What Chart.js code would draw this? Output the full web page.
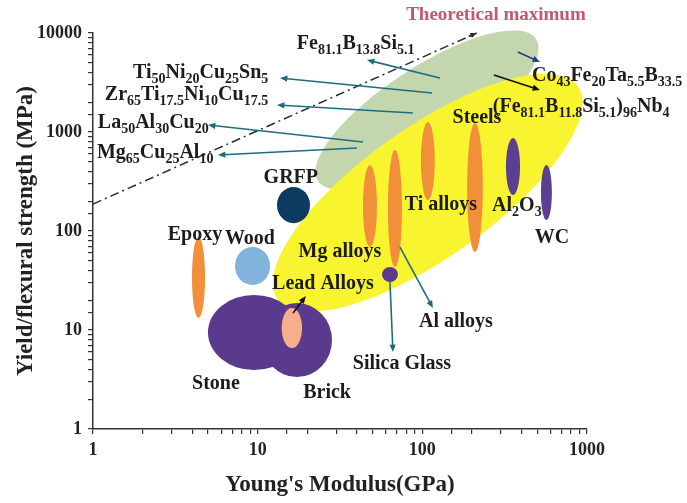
<!DOCTYPE html>
<html>
<head>
<meta charset="utf-8">
<script src="https://cdn.jsdelivr.net/npm/chart.js@4.4.1/dist/chart.umd.min.js"></script>
<style>
  html, body { margin: 0; padding: 0; background: #fff; }
  #wrap { width: 687px; height: 503px; }
</style>
</head>
<body>
<div id="wrap"><canvas id="ashby" width="687" height="503"></canvas></div>
<script>
// material bubbles: Young's modulus range (GPa) and yield/flexural strength range (MPa)
const materials   = ['Epoxy', 'Wood', 'GRFP', 'Stone', 'Brick', 'Lead Alloys', 'Mg alloys', 'Al alloys', 'Silica Glass', 'Ti alloys', 'Steels', 'Al2O3', 'WC'];
const modulusMin  = [3.99, 7.28, 13.1, 4.99, 10.6, 14.0, 43.6, 61.8, 56.9, 98.0, 187, 322, 525];
const modulusMax  = [4.79, 11.9, 20.8, 18.1, 28.3, 18.6, 53.0, 75.2, 71.1, 119, 233, 392, 612];
const strengthMin = [13.2, 28.5, 120, 3.94, 3.35, 6.58, 69.0, 43.3, 30.5, 206, 61.4, 231, 129];
const strengthMax = [87, 68.9, 278, 22.6, 18.7, 16.7, 464, 658, 43.3, 1262, 1233, 870, 464];

// the two large envelopes (metallic glasses, then the conventional materials)
const envModulusFrom  = [23.2, 13.2];
const envStrengthFrom = [320, 20.5];
const envModulusTo    = [490, 880];
const envStrengthTo   = [8700, 2900];
const envHalfDecades  = [0.434, 0.66];

// material labels (text, modulus, strength at baseline)
const labelText = ['GRFP', 'Epoxy', 'Wood', 'Mg alloys', 'Lead Alloys', 'Stone', 'Brick', 'Silica Glass', 'Al alloys', 'Ti alloys', 'Al_2O_3', 'WC', 'Steels'];
const labelX    = [15.9, 4.16, 8.98, 31.6, 24.9, 5.58, 26.4, 75.2, 160, 129.7, 375, 612, 214.6];
const labelY    = [305, 81.2, 73.9, 54.6, 25.9, 2.54, 2.06, 4.04, 10.7, 163, 159, 75.7, 1233];

// metallic glass compositions, left edge of text
const glasses  = ['Fe_81.1B_13.8Si_5.1', 'Ti_50Ni_20Cu_25Sn_5', 'Zr_65Ti_17.5Ni_10Cu_17.5', 'La_50Al_30Cu_20', 'Mg_65Cu_25Al_10', 'Co_43Fe_20Ta_5.5B_33.5', '(Fe_81.1B_11.8Si_5.1)_96Nb_4'];
const glassX   = [17.3, 1.75, 1.18, 1.07, 1.057, 463, 268];
const glassY   = [6890, 3512, 2104, 1097, 546, 3273, 1592];

// arrows: tail -> head
const arrowFromX = [127.9, 114.4, 87.7, 43.6, 40.1, 380, 272, 16.4, 63.6, 73.1];
const arrowFromY = [3512, 2477, 1556, 793, 689, 6430, 3765, 14.8, 30.5, 68.9];
const arrowToX   = [46.1, 13.66, 13.1, 4.99, 5.74, 518, 518, 19.6, 66.3, 115.9];
const arrowToY   = [5337, 3512, 1874, 1177, 586, 5096, 2655, 22.0, 5.99, 16.7];

// theoretical maximum line
const theoryX = [1, 214];
const theoryY = [187, 10000];

const serif = "'Liberation Serif', 'Times New Roman', serif";
const bubbleColors = {
  'Epoxy': '#f28f3b', 'Wood': '#80b4dd', 'GRFP': '#0c3b61', 'Stone': '#5a3a8c', 'Brick': '#5a3a8c',
  'Lead Alloys': '#f6af8c', 'Mg alloys': '#f28f3b', 'Al alloys': '#f28f3b', 'Silica Glass': '#5a3a8c',
  'Ti alloys': '#f28f3b', 'Steels': '#f28f3b', 'Al2O3': '#5d3f92', 'WC': '#5d3f92'
};
const envColors = ['#c3d6ae', '#f8f430'];
const arrowColors = ['#1f6c80', '#1f6c80', '#1f6c80', '#1f6c80', '#1f6c80', '#1d3f8c', '#111', '#111', '#1f6c80', '#1f6c80'];

function drawRich(ctx, text, px, py, align, size) {
  const parts = text.split(/_([\d.]+)/);
  const mainFont = 'bold ' + size + 'px ' + serif;
  const subFont = 'bold ' + Math.round(size * 0.7) + 'px ' + serif;
  let w = 0;
  parts.forEach(function (p, i) { ctx.font = i % 2 ? subFont : mainFont; w += ctx.measureText(p).width; });
  let cx = align === 'center' ? px - w / 2 : px;
  ctx.textAlign = 'left';
  ctx.textBaseline = 'alphabetic';
  parts.forEach(function (p, i) {
    ctx.font = i % 2 ? subFont : mainFont;
    ctx.fillText(p, cx, i % 2 ? py + size * 0.25 : py);
    cx += ctx.measureText(p).width;
  });
}

function drawArrow(ctx, x0, y0, x1, y1, color, lw, head) {
  const a = Math.atan2(y1 - y0, x1 - x0);
  ctx.strokeStyle = color;
  ctx.fillStyle = color;
  ctx.lineWidth = lw;
  ctx.beginPath();
  ctx.moveTo(x0, y0);
  ctx.lineTo(x1 - Math.cos(a) * head * 0.6, y1 - Math.sin(a) * head * 0.6);
  ctx.stroke();
  ctx.beginPath();
  ctx.moveTo(x1, y1);
  ctx.lineTo(x1 - head * Math.cos(a - 0.4), y1 - head * Math.sin(a - 0.4));
  ctx.lineTo(x1 - head * Math.cos(a + 0.4), y1 - head * Math.sin(a + 0.4));
  ctx.closePath();
  ctx.fill();
}

const ashbyPlugin = {
  id: 'ashby',
  afterDraw(chart) {
    const ctx = chart.ctx;
    const xs = chart.scales.x, ys = chart.scales.y;
    const decade = Math.abs(ys.getPixelForValue(1) - ys.getPixelForValue(10));
    ctx.save();

    // envelopes
    envColors.forEach(function (c, i) {
      const x0 = xs.getPixelForValue(envModulusFrom[i]), y0 = ys.getPixelForValue(envStrengthFrom[i]);
      const x1 = xs.getPixelForValue(envModulusTo[i]), y1 = ys.getPixelForValue(envStrengthTo[i]);
      const len = Math.hypot(x1 - x0, y1 - y0) / 2;
      ctx.fillStyle = c;
      ctx.beginPath();
      ctx.ellipse((x0 + x1) / 2, (y0 + y1) / 2, len, envHalfDecades[i] * decade, Math.atan2(y1 - y0, x1 - x0), 0, Math.PI * 2);
      ctx.fill();
    });

    // material bubbles
    materials.forEach(function (m, i) {
      const l = xs.getPixelForValue(modulusMin[i]), r = xs.getPixelForValue(modulusMax[i]);
      const t = ys.getPixelForValue(strengthMax[i]), b = ys.getPixelForValue(strengthMin[i]);
      ctx.fillStyle = bubbleColors[m];
      ctx.beginPath();
      ctx.ellipse((l + r) / 2, (t + b) / 2, (r - l) / 2, (b - t) / 2, 0, 0, Math.PI * 2);
      ctx.fill();
    });

    // theoretical maximum
    const tx0 = xs.getPixelForValue(theoryX[0]), ty0 = ys.getPixelForValue(theoryY[0]);
    const tx1 = xs.getPixelForValue(theoryX[1]), ty1 = ys.getPixelForValue(theoryY[1]);
    ctx.setLineDash([9, 4, 2, 4]);
    drawArrow(ctx, tx0, ty0, tx1, ty1, '#2b2b2b', 1.5, 0);
    ctx.setLineDash([]);
    drawArrow(ctx, tx1 - 8, ty1 + 3.5, tx1, ty1, '#2b2b2b', 1.5, 7);

    // arrows
    arrowFromX.forEach(function (v, i) {
      drawArrow(ctx, xs.getPixelForValue(v), ys.getPixelForValue(arrowFromY[i]),
        xs.getPixelForValue(arrowToX[i]), ys.getPixelForValue(arrowToY[i]), arrowColors[i], 1.6, 8);
    });

    // labels
    ctx.fillStyle = '#1c1c1c';
    labelText.forEach(function (t, i) {
      drawRich(ctx, t, xs.getPixelForValue(labelX[i]), ys.getPixelForValue(labelY[i]), 'center', 20);
    });
    glasses.forEach(function (t, i) {
      drawRich(ctx, t, xs.getPixelForValue(glassX[i]), ys.getPixelForValue(glassY[i]), 'left', 20);
    });

    ctx.fillStyle = '#c9566c';
    ctx.font = 'bold 19px ' + serif;
    ctx.textAlign = 'center';
    ctx.textBaseline = 'alphabetic';
    ctx.fillText('Theoretical maximum', xs.getPixelForValue(280), ys.getPixelForValue(13530));
    ctx.restore();
  }
};

function majorOnly(v) {
  const l = Math.log10(v);
  return Math.abs(l - Math.round(l)) < 1e-6 ? String(Math.round(v)) : '';
}

const tickFont = { family: serif, size: 18, weight: 'bold' };
const titleFont = { family: serif, size: 23, weight: 'bold' };

new Chart(document.getElementById('ashby'), {
  type: 'scatter',
  data: {
    datasets: [{
      label: 'materials',
      data: materials.map(function (m, i) {
        return { x: Math.sqrt(modulusMin[i] * modulusMax[i]), y: Math.sqrt(strengthMin[i] * strengthMax[i]) };
      }),
      pointRadius: 0
    }]
  },
  options: {
    responsive: false,
    animation: false,
    layout: { padding: { top: 33, right: 100, left: 0, bottom: 0 } },
    plugins: { legend: { display: false }, tooltip: { enabled: false } },
    scales: {
      x: {
        type: 'logarithmic', min: 1, max: 1000,
        title: { display: true, text: "Young's Modulus(GPa)", color: '#222', font: titleFont, padding: { top: 4, bottom: 4 } },
        ticks: { autoSkip: false, maxRotation: 0, callback: majorOnly, color: '#222', font: tickFont, padding: 6 },
        grid: { drawOnChartArea: false, drawTicks: true, tickLength: 5, color: '#333', lineWidth: 1.2 },
        border: { display: true, color: '#333', width: 1.5 },
        afterFit: function (s) { s.height = 74; }
      },
      y: {
        type: 'logarithmic', min: 1, max: 10000,
        title: { display: true, text: 'Yield/flexural strength (MPa)', color: '#222', font: titleFont, padding: { top: 12, bottom: 0 } },
        ticks: { autoSkip: false, callback: majorOnly, color: '#222', font: tickFont, padding: 6 },
        grid: { drawOnChartArea: false, drawTicks: true, tickLength: 5, color: '#333', lineWidth: 1.2 },
        border: { display: true, color: '#333', width: 1.5 },
        afterFit: function (s) { s.width = 93; }
      }
    }
  },
  plugins: [ashbyPlugin]
});
</script>
</body>
</html>
